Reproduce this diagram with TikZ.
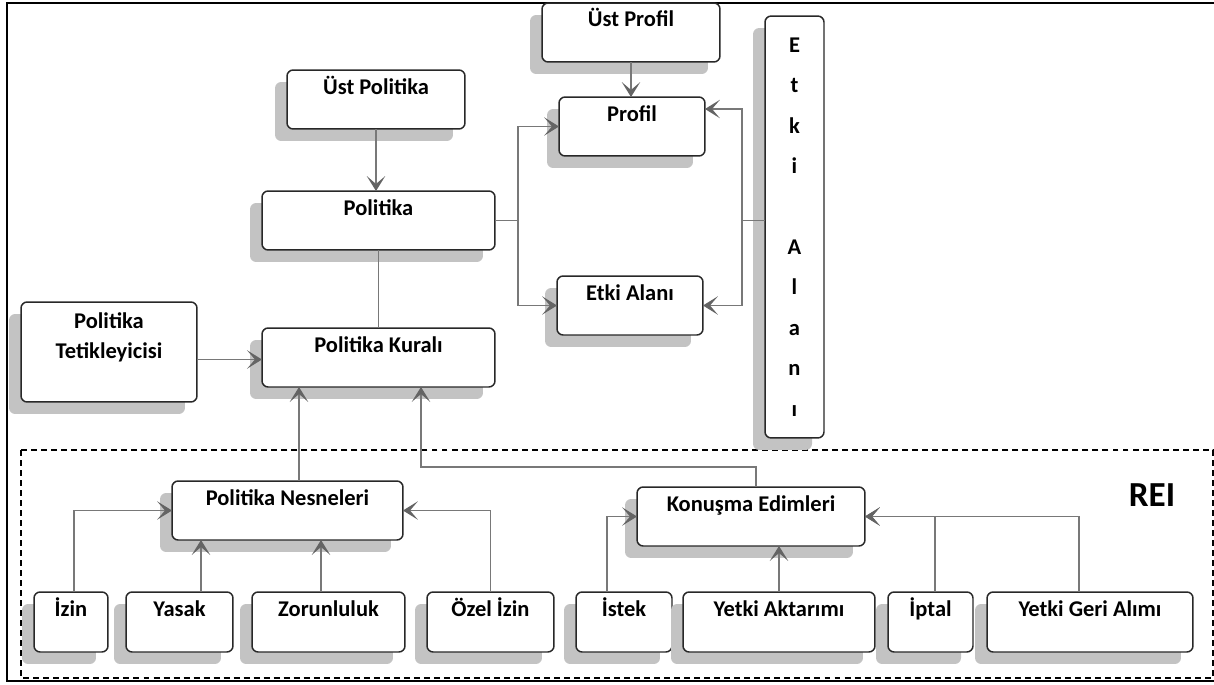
\documentclass[tikz,border=0pt]{standalone}
\usepackage{fontspec}
\setmainfont{Carlito}
\usetikzlibrary{arrows.meta}
\usetikzlibrary{calc}
\usetikzlibrary{shadows}

\definecolor{linegray}{RGB}{120,120,120}
\definecolor{tipgray}{RGB}{100,100,100}
\definecolor{shadowgray}{RGB}{195,195,195}
\definecolor{bordergray}{RGB}{40,40,40}

\tikzset{
  kutu/.style={draw=bordergray, line width=0.85pt, rounded corners=3.5pt, fill=white,
    drop shadow={shadow xshift=-0.24cm, shadow yshift=-0.24cm, fill=shadowgray, opacity=1},
    font=\fontsize{12.8}{17.6}\selectfont\bfseries, inner sep=0pt, outer sep=0pt},
  ustkutu/.style={kutu, anchor=north, text height=0.48cm, text depth=0.70cm},
  altkutu/.style={ustkutu, text depth=0.72cm},
  ok/.style={draw=linegray, line width=0.9pt,
    -{Stealth[length=8.5pt, width=10.5pt, inset=4.5pt, color=tipgray]}},
  cizgi/.style={draw=linegray, line width=0.9pt},
}

\begin{document}
\begin{tikzpicture}[x=0.02cm, y=-0.02cm]
  \useasboundingbox (0,0) rectangle (1214,684);

  % frame and REI area
  \draw[line width=1.1pt] (1214,3) -- (7,3) -- (7,681) -- (1214,681);
  \draw[dash pattern=on 3.4pt off 2.3pt, line width=0.6pt] (21,450) rectangle (1213,678);
  \node[font=\fontsize{20}{24}\selectfont\bfseries] (rei) at (1152,495) {REI};

  % upper part
  \node[ustkutu, minimum width=3.56cm] (ustpolitika) at (376,70) {Üst Politika};
  \node[ustkutu, minimum width=4.66cm] (politika) at (378.5,191) {Politika};
  \node[ustkutu, minimum width=4.66cm] (kural) at (378.5,328) {Politika Kuralı};
  \node[kutu, anchor=north, minimum width=3.52cm, text height=0.52cm, text depth=1.48cm]
    (tetik) at (109,302) {\parbox[t]{3.52cm}{\centering Politika\\Tetikleyicisi}};
  \node[ustkutu, minimum width=3.56cm] (ustprofil) at (631,3) {Üst Profil};
  \node[ustkutu, minimum width=2.92cm] (profil) at (632,97) {Profil};
  \node[ustkutu, minimum width=2.92cm] (etki) at (630,276) {Etki Alanı};
  \node[kutu, minimum width=1.18cm, minimum height=8.44cm, align=center,
    font=\fontsize{12.8}{23}\selectfont\bfseries]
    (etkidikey) at (794.5,227) {E\\t\\k\\i\\[23pt]A\\l\\a\\n\\ı};

  % REI part
  \node[ustkutu, minimum width=4.62cm] (nesneler) at (287.5,481) {Politika Nesneleri};
  \node[ustkutu, minimum width=4.56cm] (konusma) at (751,487) {Konuşma Edimleri};
  \foreach \name/\cx/\w/\txt in {izin/71/1.48/İzin, yasak/179.5/2.14/Yasak,
      zorunluluk/328.5/3.06/Zorunluluk, ozelizin/490.5/2.54/Özel İzin,
      istek/624/1.92/İstek, aktarim/779/3.84/Yetki Aktarımı,
      iptal/930.5/1.70/İptal, geri/1090/4.12/Yetki Geri Alımı} {
    \node[altkutu, minimum width=\w cm] (\name) at (\cx,592) {\txt};
  }

  % connectors, upper part
  \draw[ok] (ustpolitika.south) -- (ustpolitika.south |- politika.north);
  \draw[cizgi] (politika.south) -- (politika.south |- kural.north);
  \draw[ok] (tetik.east |- kural.west) ++(0,2) -- ++(65,0);
  \draw[ok] (ustprofil.south) -- (ustprofil.south |- profil.north);
  \draw[cizgi] (politika.east) -- ++(23,0) coordinate (sol);
  \draw[ok] (sol) |- (profil.west);
  \draw[ok] (sol) |- (etki.west);
  \draw[cizgi] (etkidikey.west |- politika.east) -- ++(-23,0) coordinate (sag);
  \draw[ok] (sag) |- ($(profil.north east)+(0,12)$);
  \draw[ok] (sag) |- (etki.east);

  % connectors, REI part
  \draw[ok] ($(nesneler.north)+(11.5,0)$) coordinate (n1) -- (n1 |- kural.south);
  \draw[ok] ($(konusma.north)+(5,0)$) -- ++(0,-20) -| ($(kural.south east)+(-74,0)$);
  \draw[ok] ($(izin.north)+(3,0)$) |- (nesneler.west);
  \draw[ok] ($(yasak.north)+(21.5,0)$) coordinate (y1) -- (y1 |- nesneler.south);
  \draw[ok] ($(zorunluluk.north)+(-7.5,0)$) coordinate (z1) -- (z1 |- nesneler.south);
  \draw[ok] (ozelizin.north) |- (nesneler.east);
  \draw[ok] ($(istek.north)+(-17,0)$) |- (konusma.west);
  \draw[ok] (aktarim.north) -- (aktarim.north |- konusma.south);
  \draw[ok] ($(iptal.north)+(4.5,0)$) |- (konusma.east);
  \draw[ok] ($(geri.north)+(-11,0)$) |- (konusma.east);
\end{tikzpicture}
\end{document}
